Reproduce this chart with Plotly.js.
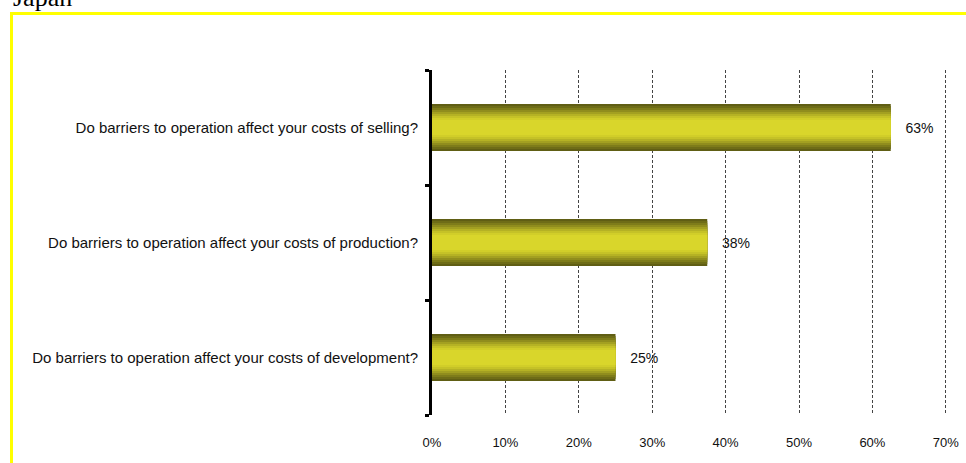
<!DOCTYPE html>
<html>
<head>
<meta charset="utf-8">
<script src="https://cdn.plot.ly/plotly-3.0.1.min.js"></script>
<style>
  html, body { margin: 0; padding: 0; background: #ffffff; }
  #frame { position: absolute; left: 10px; top: 12px; width: 960px; height: 460px;
           border-left: 3px solid #ffff00; border-top: 3px solid #ffff00; }
  #chart { position: absolute; left: 0; top: 0; width: 966px; height: 463px; }
</style>
</head>
<body>
<div id="frame"></div>
<div id="chart"></div>
<script>
// ---- data ----
const questions = [
  "Do barriers to operation affect your costs of development?",
  "Do barriers to operation affect your costs of production?",
  "Do barriers to operation affect your costs of selling?"
];
const shares = [25, 37.5, 62.5];          // percent
const shareLabels = ["25%", "38%", "63%"];
const chartTitle = "Japan";

// ---- gradient bands (outer dark -> inner bright) ----
const bandColors = ["#605e14", "#6e6c17", "#7e7c1a", "#908d1d", "#a3a021", "#b5b224", "#c5c227", "#d1ce29", "#d9d62b"];
const bandWidths = [0.409, 0.374, 0.339, 0.304, 0.27, 0.235, 0.2, 0.165, 0.13];

const traces = bandColors.map((c, i) => ({
  type: "bar",
  orientation: "h",
  y: questions,
  x: shares,
  width: bandWidths[i],
  marker: { color: c, line: { width: 0 } },
  hoverinfo: "skip",
  showlegend: false,
  text: i === 0 ? shareLabels : undefined,
  texttemplate: i === 0 ? "\u00a0\u00a0\u00a0%{text}" : undefined,
  textposition: i === 0 ? "outside" : "none",
  textfont: { family: "Liberation Sans, Arial, sans-serif", size: 14, color: "#111" },
  cliponaxis: false
}));

const layout = {
  width: 966, height: 463,
  margin: { l: 432, r: 18, t: 70, b: 48 },
  paper_bgcolor: "rgba(0,0,0,0)",
  plot_bgcolor: "rgba(0,0,0,0)",
  barmode: "overlay",
  font: { family: "Liberation Sans, Arial, sans-serif", size: 13, color: "#111" },
  annotations: [{
    text: chartTitle, showarrow: false,
    font: { family: "Liberation Serif, Times New Roman, serif", size: 26, color: "#000" },
    xref: "paper", x: (11 - 432) / 516, xanchor: "left",
    yref: "paper", y: (415 + 3) / 345, yanchor: "middle"
  }],
  xaxis: {
    range: [0, 70.3], dtick: 10, ticksuffix: "%",
    showgrid: true, gridcolor: "#444444", gridwidth: 1, griddash: "3px,2px",
    zeroline: false, showline: false, ticks: "",
    ticklabelstandoff: 18,
    tickfont: { size: 13, color: "#111" },
    fixedrange: true
  },
  yaxis: {
    showgrid: false, zeroline: false,
    showline: true, linecolor: "#000", linewidth: 3,
    ticks: "outside", tickson: "boundaries", ticklen: 4, tickwidth: 3, tickcolor: "#000",
    ticklabelstandoff: 8,
    tickfont: { size: 15, color: "#111" },
    fixedrange: true
  }
};

Plotly.newPlot("chart", traces, layout, { displayModeBar: false, staticPlot: true });
</script>
</body>
</html>
